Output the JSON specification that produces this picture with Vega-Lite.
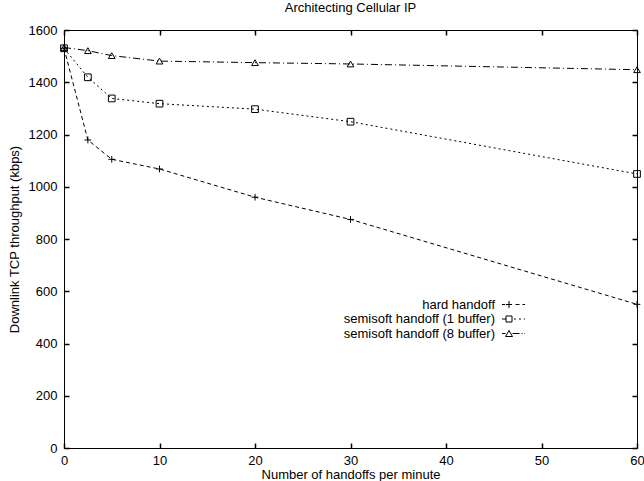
{
  "$schema": "https://vega.github.io/schema/vega-lite/v6.json",
  "width": 573,
  "height": 418,
  "autosize": {"type": "none"},
  "padding": {"left": 64, "top": 30, "right": 7, "bottom": 33},
  "background": "white",
  "title": {"text": "Architecting Cellular IP", "fontSize": 13, "fontWeight": "normal", "font": "Liberation Sans", "color": "black", "offset": 9},
  "config": {
    "view": {"stroke": "black", "strokeWidth": 1},
    "font": "Liberation Sans",
    "axis": {"labelFont": "Liberation Sans", "titleFont": "Liberation Sans", "labelFontSize": 13, "titleFontSize": 13, "titleFontWeight": "normal", "labelColor": "black", "titleColor": "black", "domain": false, "grid": false, "format": "d", "labelFlush": false}
  },
  "data": {"values": [
    {"x": 0, "y": 1530, "s": "hard handoff"},
    {"x": 2.5, "y": 1179, "s": "hard handoff"},
    {"x": 5, "y": 1105, "s": "hard handoff"},
    {"x": 10, "y": 1068, "s": "hard handoff"},
    {"x": 20, "y": 960, "s": "hard handoff"},
    {"x": 30, "y": 875, "s": "hard handoff"},
    {"x": 60, "y": 550, "s": "hard handoff"},
    {"x": 0, "y": 1530, "s": "semisoft handoff (1 buffer)"},
    {"x": 2.5, "y": 1419, "s": "semisoft handoff (1 buffer)"},
    {"x": 5, "y": 1338, "s": "semisoft handoff (1 buffer)"},
    {"x": 10, "y": 1318, "s": "semisoft handoff (1 buffer)"},
    {"x": 20, "y": 1297, "s": "semisoft handoff (1 buffer)"},
    {"x": 30, "y": 1249, "s": "semisoft handoff (1 buffer)"},
    {"x": 60, "y": 1049, "s": "semisoft handoff (1 buffer)"},
    {"x": 0, "y": 1533, "s": "semisoft handoff (8 buffer)"},
    {"x": 2.5, "y": 1521, "s": "semisoft handoff (8 buffer)"},
    {"x": 5, "y": 1502, "s": "semisoft handoff (8 buffer)"},
    {"x": 10, "y": 1481, "s": "semisoft handoff (8 buffer)"},
    {"x": 20, "y": 1475, "s": "semisoft handoff (8 buffer)"},
    {"x": 30, "y": 1470, "s": "semisoft handoff (8 buffer)"},
    {"x": 60, "y": 1448, "s": "semisoft handoff (8 buffer)"}
  ]},
  "layer": [
    {
      "mark": {"type": "line", "color": "black", "strokeWidth": 1},
      "encoding": {
        "x": {"field": "x", "type": "quantitative", "scale": {"domain": [0, 60], "nice": false, "zero": false},
              "axis": {"values": [0, 10, 20, 30, 40, 50, 60], "title": "Number of handoffs per minute", "ticks": true, "tickSize": -5, "tickColor": "black", "tickWidth": 1.5, "labelPadding": 11, "titleY": 26, "titleBaseline": "middle", "zindex": 1}},
        "y": {"field": "y", "type": "quantitative", "scale": {"domain": [0, 1600], "nice": false},
              "axis": {"values": [0, 200, 400, 600, 800, 1000, 1200, 1400, 1600], "title": "Downlink TCP throughput (kbps)", "ticks": true, "tickSize": -5, "tickColor": "black", "tickWidth": 1.5, "labelPadding": 12, "titleX": -50, "titleBaseline": "middle", "zindex": 1}},
        "strokeDash": {"field": "s", "type": "nominal", "scale": {"range": [[4, 3], [2, 3], [7, 3, 1, 3]]}, "legend": null}
      }
    },
    {
      "mark": {"type": "point", "filled": false, "color": "black", "strokeWidth": 1, "opacity": 1, "size": 45},
      "encoding": {
        "x": {"field": "x", "type": "quantitative", "axis": {"orient": "top", "values": [0, 10, 20, 30, 40, 50, 60], "labels": false, "title": null, "ticks": true, "tickSize": -5, "tickColor": "black", "tickWidth": 1.5, "zindex": 1}},
        "y": {"field": "y", "type": "quantitative", "axis": {"orient": "right", "values": [0, 200, 400, 600, 800, 1000, 1200, 1400, 1600], "labels": false, "title": null, "ticks": true, "tickSize": -5, "tickColor": "black", "tickWidth": 1.5, "zindex": 1}},
        "shape": {"field": "s", "type": "nominal", "scale": {"range": ["M-1,0H1M0,-1V1", "square", "triangle-up"]}, "legend": null}
      }
    },
    {
      "transform": [{"filter": "datum.x < 0"}],
      "mark": {"type": "point", "filled": false, "color": "black", "strokeWidth": 1},
      "encoding": {
        "x": {"field": "x", "type": "quantitative", "axis": null},
        "y": {"field": "y", "type": "quantitative", "axis": null},
        "shape": {"field": "s", "type": "nominal",
          "scale": {"domain": ["hard handoff", "semisoft handoff (1 buffer)", "semisoft handoff (8 buffer)"],
                    "range": ["M-2.875,0H-2.125M-1.9,0H-0.35M0.5,0H1.5M2.25,0H2.875M-1.125,-0.875V0.875",
                              "M-2.875,0H-1.875M-1.875,-0.75H-0.375V0.75H-1.875ZM0.1,0H0.6M1.35,0H1.85M2.6,0H2.875",
                              "M-2.875,0H-2M-2,0.75L-1.125,-0.75L-0.25,0.75ZM-0.25,0H1.5M2,0H2.25M2.75,0H2.875"]},
          "legend": {
            "title": null, "orient": "none", "legendX": 443, "legendY": 268, "padding": 0,
            "labelFont": "Liberation Sans", "labelFontSize": 13, "labelColor": "black",
            "labelAlign": "right", "labelOffset": -25, "labelLimit": 400,
            "symbolSize": 64, "symbolStrokeColor": "black", "symbolFillColor": "transparent", "symbolStrokeWidth": 1, "symbolOpacity": 1, "rowPadding": 0.5
          }
        }
      }
    }
  ],
  "resolve": {"axis": {"x": "independent", "y": "independent"}, "scale": {"shape": "independent"}}
}
